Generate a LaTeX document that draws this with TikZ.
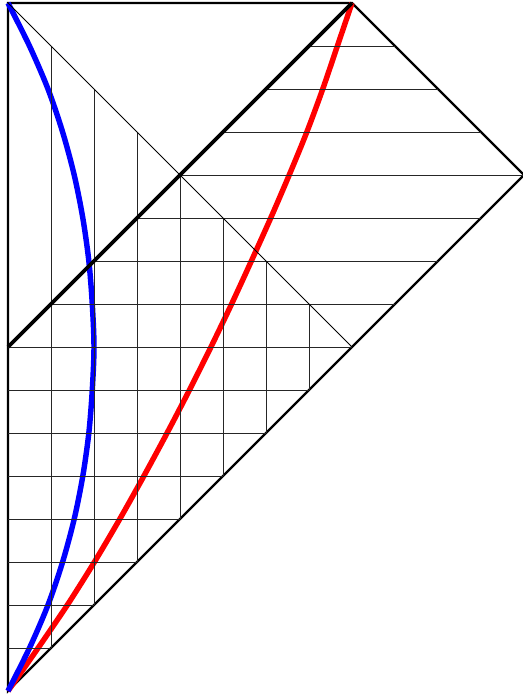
\documentclass[tikz,border=0pt]{standalone}
\begin{document}
\begin{tikzpicture}[x=1cm,y=1cm,
  outline/.style={line width=1.45pt,line join=miter},
  gridline/.style={line width=0.6pt,black!85},
  thindiag/.style={line width=0.55pt},
  thickdiag/.style={line width=2.5pt},
  worldline/.style={line width=3.6pt}]
\useasboundingbox (-0.186,-0.163) rectangle (11.954,16.07);
\coordinate (B) at (0,0);
\coordinate (TL) at (0,16);
\coordinate (T) at (8,16);
\coordinate (R) at (12,12);
\coordinate (ML) at (0,8);
\coordinate (MC) at (8,8);
% outline
\draw[outline] (B) -- (TL) -- (T) -- (R) -- cycle;
% world lines
\draw[worldline,red] plot[smooth] coordinates {(0,0) (0.70,1) (1.38,2) (2.01,3) (2.60,4) (3.16,5) (3.70,6) (4.22,7) (4.72,8) (5.20,9) (5.66,10) (6.11,11) (6.54,12) (6.95,13) (7.32,14) (7.66,15) (8,16)};
\draw[worldline,blue] plot[smooth] coordinates {(0,0) (0.50,1) (0.93,2) (1.27,3) (1.54,4) (1.74,5) (1.88,6) (1.96,7) (2.0,8) (1.96,9) (1.88,10) (1.74,11) (1.54,12) (1.27,13) (0.93,14) (0.50,15) (0,16)};
% grid
\foreach \k in {1,...,7}{
  \draw[gridline] (\k,16-\k) -- (\k,\k);
}
\foreach \k in {1,...,8}{
  \draw[gridline] (0,\k) -- (\k,\k);
}
\foreach \k in {9,10,11}{
  \draw[gridline] (\k-8,\k) -- (\k,\k);
}
\foreach \k in {12,...,15}{
  \draw[gridline] (\k-8,\k) -- (24-\k,\k);
}
% diagonals
\draw[thindiag] (TL) -- (MC);
\draw[thickdiag] (ML) -- (T);
\end{tikzpicture}
\end{document}
